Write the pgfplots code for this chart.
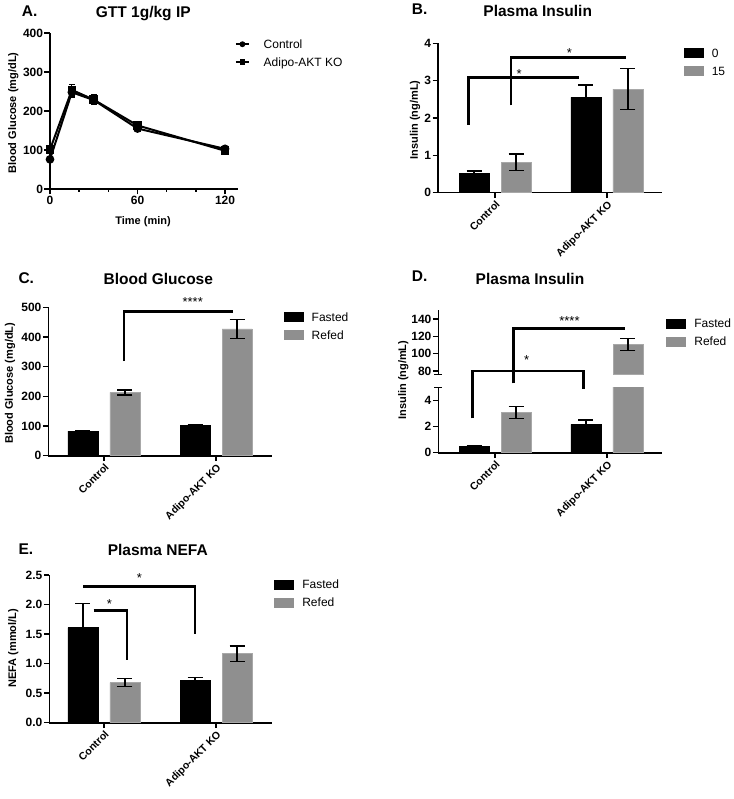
\documentclass[border=0pt]{standalone}
\usepackage{pgfplots}
\pgfplotsset{compat=1.18}
\usepackage{fontspec}
\setmainfont{Liberation Sans}
\definecolor{barg}{RGB}{143,143,143}
\definecolor{bargb}{RGB}{168,168,168}
\newcommand\tickfont{\fontsize{12}{13}\selectfont\bfseries}
\newcommand\catfont{\fontsize{10.5}{12}\selectfont\bfseries}
\newcommand\labfont{\fontsize{11}{12}\selectfont\bfseries}
\newcommand\titfont{\fontsize{15.5}{17}\selectfont\bfseries}
\newcommand\legfont{\fontsize{12}{13}\selectfont}
\newcommand\starfont{\fontsize{13}{14}\selectfont}
\tikzset{brk/.style={line width=2.8pt, line join=miter}}
\pgfplotsset{
  prism/.style={
    scale only axis, anchor=south west,
    axis lines*=left,
    axis line style={line width=1.6pt, -},
    tick style={line width=1.4pt, black},
    tick align=outside, major tick length=5.5pt,
    tick label style={font=\tickfont, inner sep=1.2pt},
    label style={font=\labfont},
    /pgf/number format/assume math mode=true,
    clip mode=individual,
    legend style={draw=none, fill=none, inner sep=0pt, anchor=north west,
      font=\legfont, row sep=4.5pt,
      nodes={inner sep=1pt, text height=9pt, text depth=2.5pt},
      /tikz/every odd column/.append style={column sep=7.4pt}},
    legend cell align=left,
  },
  catx/.style={
    ybar,
    xtick={0,1}, xticklabels={Control,Adipo-AKT KO},
    xticklabel style={rotate=45, anchor=north east, font=\catfont, inner sep=1pt},
  },
  errb/.style={
    error bars/.cd, y dir=both, y explicit,
    error bar style={line width=1.3pt, black},
    error mark options={rotate=90, mark size=7.5pt, line width=1.3pt, black},
  },
  blackbar/.style={bar width=30pt, bar shift=-21pt, fill=black, draw=black, line width=0.6pt,
    legend image code/.code={\fill[black] (0pt,-3.45pt) rectangle (19pt,5.55pt);}},
  graybar/.style={bar width=30pt, bar shift=21pt, fill=barg, draw=bargb, line width=0.8pt,
    legend image code/.code={\fill[barg] (0pt,-3.45pt) rectangle (19pt,5.55pt);}},
}
\begin{document}
\begin{tikzpicture}
\path[use as bounding box] (0pt,0pt) rectangle (733pt,-799pt);

% ---------- titles ----------
\node[font=\titfont, anchor=base west] at (18.3pt,-16.7pt) {A.};
\node[font=\titfont, anchor=base] at (143.3pt,-17.3pt) {GTT 1g/kg IP};
\node[font=\titfont, anchor=base west] at (408.3pt,-15pt) {B.};
\node[font=\titfont, anchor=base] at (537.7pt,-17pt) {Plasma Insulin};
\node[font=\titfont, anchor=base west] at (15pt,-283.3pt) {C.};
\node[font=\titfont, anchor=base] at (158.3pt,-284pt) {Blood Glucose};
\node[font=\titfont, anchor=base west] at (408.3pt,-281.7pt) {D.};
\node[font=\titfont, anchor=base] at (530pt,-284pt) {Plasma Insulin};
\node[font=\titfont, anchor=base west] at (15pt,-554pt) {E.};
\node[font=\titfont, anchor=base] at (157.8pt,-555pt) {Plasma NEFA};

% ---------- A ----------
\begin{axis}[prism, at={(50pt,-189pt)}, width=188pt, height=156pt,
  xmin=0, xmax=128.9, ymin=0, ymax=400,
  xtick={0,60,120}, minor xtick={20,40,80,100}, minor tick length=3pt,
  ytick={0,100,200,300,400},
  xlabel={Time (min)}, ylabel={Blood Glucose (mg/dL)},
  xlabel style={at={(rel axis cs:0.495,-0.21)}, anchor=center},
  ylabel style={at={(rel axis cs:-0.195,0.487)}, anchor=center},
  legend style={at={(rel axis cs:0.984,0.966)}, row sep=4.2pt,
    /tikz/every odd column/.append style={column sep=13pt}},
  legend image code/.code={
    \draw[#1, line width=1.5pt, mark=none] (0pt,1.05pt) -- (13pt,1.05pt);
    \draw[#1, line width=1pt, mark size=2.4pt, only marks] plot coordinates {(6.5pt,1.05pt)};},
]
\addplot[black, line width=2pt, mark=*, mark size=3.3pt,
  error bars/.cd, y dir=both, y explicit,
  error bar style={line width=1.2pt, black},
  error mark options={rotate=90, mark size=3pt, line width=1.2pt, black}]
  coordinates {(0,76) +- (0,4) (15,248) +- (0,12) (30,228) +- (0,10) (60,155) +- (0,8) (120,103) +- (0,3)};
\addlegendentry{Control}
\addplot[black, line width=2pt, mark=square*, mark size=3.3pt,
  error bars/.cd, y dir=both, y explicit,
  error bar style={line width=1.2pt, black},
  error mark options={rotate=90, mark size=3pt, line width=1.2pt, black}]
  coordinates {(0,101) +- (0,4) (15,254) +- (0,13) (30,229) +- (0,12) (60,163) +- (0,9) (120,98) +- (0,3)};
\addlegendentry{Adipo-AKT KO}
\end{axis}

% ---------- B ----------
\begin{axis}[prism, catx, at={(438pt,-192.7pt)}, width=223.7pt, height=149.4pt,
  xmin=-0.51, xmax=1.49, ymin=0, ymax=4, ytick={0,1,2,3,4},
  ylabel={Insulin (ng/mL)},
  ylabel style={at={(rel axis cs:-0.103,0.487)}, anchor=center},
  legend style={at={(rel axis cs:1.097,0.976)}},
]
\addplot[blackbar, errb] coordinates {(0,0.51) +- (0,0.07) (1,2.55) +- (0,0.33)};
\addlegendentry{0}
\addplot[graybar, errb] coordinates {(0,0.82) +- (0,0.22) (1,2.77) +- (0,0.55)};
\addlegendentry{15}
\draw[brk] (axis cs:-0.235,1.82) -- (axis cs:-0.235,3.09) -- (axis cs:0.754,3.09);
\draw[brk] (axis cs:0.143,2.34) -- (axis cs:0.143,3.62) -- (axis cs:1.173,3.62);
\node[font=\starfont, inner sep=0pt, yshift=-2.7pt] at (axis cs:0.215,3.24) {*};
\node[font=\starfont, inner sep=0pt, yshift=-2.7pt] at (axis cs:0.665,3.82) {*};
\end{axis}

% ---------- C ----------
\begin{axis}[prism, catx, at={(48.3pt,-455.7pt)}, width=223.4pt, height=148.4pt,
  xmin=-0.497, xmax=1.497, ymin=0, ymax=500, ytick={0,100,200,300,400,500},
  ylabel={Blood Glucose (mg/dL)},
  ylabel style={at={(rel axis cs:-0.171,0.488)}, anchor=center},
  legend style={at={(rel axis cs:1.052,0.976)}},
]
\addplot[blackbar, errb] coordinates {(0,83) +- (0,3) (1,101) +- (0,3)};
\addlegendentry{Fasted}
\addplot[graybar, errb] coordinates {(0,213) +- (0,8) (1,427) +- (0,33)};
\addlegendentry{Refed}
\draw[brk] (axis cs:0.179,319) -- (axis cs:0.179,485) -- (axis cs:1.155,485);
\node[font=\starfont, inner sep=0pt, yshift=-2.7pt] at (axis cs:0.792,527) {****};
\end{axis}

% ---------- D (upper segment) ----------
\begin{axis}[prism, ybar, at={(438.3pt,-374.3pt)}, width=223.4pt, height=64.3pt,
  xmin=-0.508, xmax=1.49, ymin=76.2, ymax=150.4,
  ytick={80,100,120,140}, xtick=\empty,
  x axis line style={draw=none},
  extra y ticks={76.2}, extra y tick labels={},
  extra y tick style={tick align=center, major tick length=8pt},
]
\addplot[graybar, errb] coordinates {(1,110.5) +- (0,7)};
\end{axis}

% ---------- D (lower segment) ----------
\begin{axis}[prism, catx, at={(438.3pt,-452.7pt)}, width=223.4pt, height=65pt,
  xmin=-0.508, xmax=1.49, ymin=0, ymax=5, ytick={0,2,4},
  extra y ticks={5}, extra y tick labels={},
  extra y tick style={tick align=center, major tick length=8pt},
  ylabel={Insulin (ng/mL)},
  ylabel style={at={(rel axis cs:-0.157,1.118)}, anchor=center},
  legend style={at={(rel axis cs:1.019,2.078)}},
]
\addplot[blackbar, errb] coordinates {(0,0.47) +- (0,0.08) (1,2.18) +- (0,0.34)};
\addlegendentry{Fasted}
\addplot[graybar, errb] coordinates {(0,3.1) +- (0,0.47) (1,110.5) +- (0,0)};
\addlegendentry{Refed}
\draw[brk] (axis cs:-0.2,2.65) -- (axis cs:-0.2,6.28) -- (axis cs:0.79,6.28) -- (axis cs:0.79,4.88);
\draw[brk] (axis cs:0.163,5.34) -- (axis cs:0.163,9.57) -- (axis cs:1.163,9.57);
\node[font=\starfont, inner sep=0pt, yshift=-2.7pt] at (axis cs:0.283,7.3) {*};
\node[font=\starfont, inner sep=0pt, yshift=-2.7pt] at (axis cs:0.665,10.34) {****};
\end{axis}

% ---------- E ----------
\begin{axis}[prism, catx, at={(49.3pt,-722.7pt)}, width=222.4pt, height=147.7pt,
  xmin=-0.488, xmax=1.497, ymin=0, ymax=2.5, ytick={0,0.5,1,1.5,2,2.5},
  yticklabel style={/pgf/number format/.cd, fixed, fixed zerofill, precision=1},
  ylabel={NEFA (mmol/L)},
  ylabel style={at={(rel axis cs:-0.162,0.504)}, anchor=center},
  legend style={at={(rel axis cs:1.010,0.976)}},
]
\addplot[blackbar, errb] coordinates {(0,1.61) +- (0,0.41) (1,0.71) +- (0,0.06)};
\addlegendentry{Fasted}
\addplot[graybar, errb] coordinates {(0,0.68) +- (0,0.07) (1,1.17) +- (0,0.13)};
\addlegendentry{Refed}
\draw[brk] (axis cs:-0.184,2.31) -- (axis cs:0.813,2.31) -- (axis cs:0.813,1.50);
\draw[brk] (axis cs:-0.092,1.90) -- (axis cs:0.206,1.90) -- (axis cs:0.206,1.06);
\node[font=\starfont, inner sep=0pt, yshift=-2.7pt] at (axis cs:0.316,2.5) {*};
\node[font=\starfont, inner sep=0pt, yshift=-2.7pt] at (axis cs:0.049,2.05) {*};
\end{axis}
\end{tikzpicture}
\end{document}
